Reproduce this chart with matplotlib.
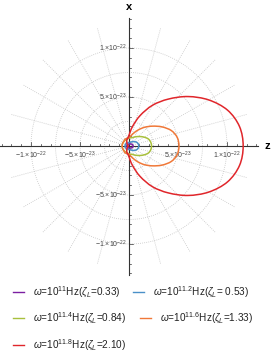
import numpy as np
import matplotlib
matplotlib.use("Agg")
import matplotlib.pyplot as plt
from matplotlib.lines import Line2D
from matplotlib.path import Path
from matplotlib.patches import PathPatch

plt.rcParams['font.family'] = ['Liberation Sans', 'DejaVu Sans']
plt.rcParams['mathtext.fontset'] = 'custom'
plt.rcParams['mathtext.rm'] = 'Liberation Sans'
plt.rcParams['mathtext.it'] = 'Liberation Sans:italic'

# polar angle (deg, measured from +z axis), radii in units of 1e-23
theta_deg = [0, 10, 20, 30, 40, 50, 60, 70, 80, 90, 100, 110, 120, 130, 140, 150, 160, 170, 180]
r_purple = [0.42, 0.41, 0.39, 0.35, 0.31, 0.27, 0.24, 0.22, 0.21, 0.2, 0.2, 0.2, 0.2, 0.21, 0.21, 0.22, 0.22, 0.22, 0.22]
r_blue = [1.0, 0.98, 0.92, 0.82, 0.7, 0.58, 0.48, 0.41, 0.37, 0.35, 0.35, 0.35, 0.36, 0.37, 0.38, 0.39, 0.4, 0.4, 0.4]
r_green = [2.3, 2.25, 2.1, 1.8, 1.5, 1.25, 1.05, 0.9, 0.85, 0.8, 0.75, 0.72, 0.7, 0.7, 0.7, 0.7, 0.7, 0.7, 0.7]
r_orange = [5.1, 5.0, 4.6, 3.9, 3.15, 2.5, 1.9, 1.4, 1.05, 0.85, 0.8, 0.8, 0.8, 0.75, 0.7, 0.7, 0.7, 0.7, 0.7]
r_red = [11.65, 11.45, 10.7, 9.4, 7.85, 6.25, 4.8, 3.3, 2.0, 1.1, 0.8, 0.65, 0.45, 0.3, 0.2, 0.15, 0.1, 0.1, 0.1]

series = [r_purple, r_blue, r_green, r_orange, r_red]
colors = ['#7B1FA2', '#4A90C8', '#A8C03C', '#F07838', '#E0262B']
exponents = ['11', '11.2', '11.4', '11.6', '11.8']
zetas = ['0.33', ' 0.53', '0.84', '1.33', '2.10']

tick_vals = [-10, -5, 5, 10]
tick_text = {-10: '\u22121.\u00d710$^{-22}$', -5: '\u22125.\u00d710$^{-23}$',
             5: '5.\u00d710$^{-23}$', 10: '1.\u00d710$^{-22}$'}

px = 9.8  # pixels per 1e-23
fig = plt.figure(figsize=(2.71, 3.59), dpi=100)
ax = fig.add_axes([0, 79 / 359, 1, 280 / 359])
ax.set_xlim(-129 / px, 142 / px)
ax.set_ylim(-134 / px, 146 / px)
ax.axis('off')

# polar grid
grid_kw = dict(color='#c4c4c4', lw=0.6, linestyle=(0, (1, 1.5)), zorder=1)
t = np.linspace(0, 2 * np.pi, 300)
for rr in [2.5, 5, 7.5, 10]:
    ax.plot(rr * np.cos(t), rr * np.sin(t), **grid_kw)
for a in np.arange(0, 360, 15):
    ar = np.radians(a)
    ax.plot([0, 12.5 * np.cos(ar)], [0, 12.5 * np.sin(ar)], **grid_kw)

# axes with ticks
ax.plot([-129 / px, 129 / px], [0, 0], color='#333333', lw=0.8, zorder=3)
ax.plot([0, 0], [-129 / px, 128 / px], color='#333333', lw=0.8, zorder=3)
for v in range(-13, 14):
    if v == 0:
        continue
    L = 0.4 if v % 5 == 0 else 0.25
    ax.plot([v, v], [0, L], color='#333333', lw=0.5, zorder=3)
    ax.plot([0, L], [v, v], color='#333333', lw=0.5, zorder=3)
for v in tick_vals:
    ax.text(v, -1.0, tick_text[v], fontsize=5, color='#444444', ha='center', va='center')
    ax.text(-0.2, v, tick_text[v], fontsize=5, color='#444444', ha='right', va='center')
ax.text(138 / px, 0, 'z', fontsize=8, fontweight='bold', ha='center', va='center')
ax.text(0, 139 / px, 'x', fontsize=8, fontweight='bold', ha='center', va='center')


def smooth_loop(pts):
    # closed Catmull-Rom curve drawn as cubic Bezier segments
    n = len(pts)
    verts = [pts[0]]
    codes = [Path.MOVETO]
    for i in range(n):
        p0, p1, p2, p3 = pts[i - 1], pts[i], pts[(i + 1) % n], pts[(i + 2) % n]
        verts += [p1 + (p2 - p0) / 6, p2 - (p3 - p1) / 6, p2]
        codes += [Path.CURVE4] * 3
    return Path(verts, codes)


# curves
th = np.radians(theta_deg)
for r, c in zip(series, colors):
    r = np.array(r)
    tt = np.concatenate([th, 2 * np.pi - th[-2:0:-1]])
    rr = np.concatenate([r, r[-2:0:-1]])
    pts = np.column_stack([rr * np.cos(tt), rr * np.sin(tt)])
    ax.add_patch(PathPatch(smooth_loop(pts), fill=False, edgecolor=c, lw=1.1, zorder=4))

# legend
W, H = 271.0, 359.0
rows = [(292, 13, 33), (292, 133, 153), (318, 13, 33), (318, 140, 160), (345, 13, 33)]
for (y, sx, tx), c, e, z in zip(rows, colors, exponents, zetas):
    fy = 1 - y / H
    fig.add_artist(Line2D([sx / W, (sx + 11) / W], [fy, fy], color=c, lw=1.0))
    fig.text(tx / W, fy, r'$\omega$=10$^{%s}$Hz($\zeta_L$=%s)' % (e, z),
             fontsize=7.2, ha='left', va='center', color='#222222')

fig.savefig('out.png', dpi=100)
